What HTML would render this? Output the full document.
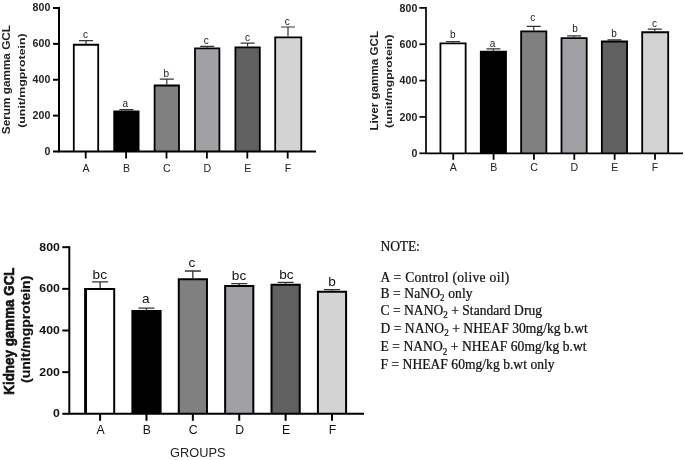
<!DOCTYPE html>
<html><head><meta charset="utf-8"><style>
html,body{margin:0;padding:0;background:#fff;}
svg{display:block;filter:blur(0.45px);}
text{font-family:"Liberation Sans",sans-serif;}
.serif text{font-family:"Liberation Serif",serif;}
</style></head><body>
<svg width="685" height="460" viewBox="0 0 685 460">
<rect width="685" height="460" fill="#fff"/>
<path d="M86,43.88V40.7M79,40.7H93" stroke="#333" stroke-width="1.2" fill="none"/>
<path d="M73.8,151.5V44.77H98.2V151.5Z" fill="#ffffff"/>
<path d="M73.8,151.5V44.77H98.2V151.5" fill="none" stroke="#000" stroke-width="1.8"/>
<text x="85.4" y="37.5" text-anchor="middle" font-size="10" fill="#222">c</text>
<path d="M85.7,151.5V158.5" stroke="#000" stroke-width="1.8"/>
<text x="86.1" y="171.5" text-anchor="middle" font-size="10.6" fill="#222">A</text>
<path d="M126.4,110.6V109.7M119.4,109.7H133.4" stroke="#333" stroke-width="1.2" fill="none"/>
<path d="M114.2,151.5V111.5H138.6V151.5Z" fill="#000000"/>
<path d="M114.2,151.5V111.5H138.6V151.5" fill="none" stroke="#000" stroke-width="1.8"/>
<text x="125.4" y="106.6" text-anchor="middle" font-size="10" fill="#222">a</text>
<path d="M126.1,151.5V158.5" stroke="#000" stroke-width="1.8"/>
<text x="126.5" y="171.5" text-anchor="middle" font-size="10.6" fill="#222">B</text>
<path d="M166.8,84.59V79.2M159.8,79.2H173.8" stroke="#333" stroke-width="1.2" fill="none"/>
<path d="M154.6,151.5V85.49H179V151.5Z" fill="#808080"/>
<path d="M154.6,151.5V85.49H179V151.5" fill="none" stroke="#000" stroke-width="1.8"/>
<text x="166.3" y="76.5" text-anchor="middle" font-size="10" fill="#222">b</text>
<path d="M166.5,151.5V158.5" stroke="#000" stroke-width="1.8"/>
<text x="166.9" y="171.5" text-anchor="middle" font-size="10.6" fill="#222">C</text>
<path d="M207.2,47.46V46.3M200.2,46.3H214.2" stroke="#333" stroke-width="1.2" fill="none"/>
<path d="M195,151.5V48.36H219.4V151.5Z" fill="#a1a0a5"/>
<path d="M195,151.5V48.36H219.4V151.5" fill="none" stroke="#000" stroke-width="1.8"/>
<text x="206.3" y="43.5" text-anchor="middle" font-size="10" fill="#222">c</text>
<path d="M206.9,151.5V158.5" stroke="#000" stroke-width="1.8"/>
<text x="207.3" y="171.5" text-anchor="middle" font-size="10.6" fill="#222">D</text>
<path d="M247.6,46.57V43.2M240.6,43.2H254.6" stroke="#333" stroke-width="1.2" fill="none"/>
<path d="M235.4,151.5V47.47H259.8V151.5Z" fill="#606060"/>
<path d="M235.4,151.5V47.47H259.8V151.5" fill="none" stroke="#000" stroke-width="1.8"/>
<text x="247.5" y="40.5" text-anchor="middle" font-size="10" fill="#222">c</text>
<path d="M247.3,151.5V158.5" stroke="#000" stroke-width="1.8"/>
<text x="247.7" y="171.5" text-anchor="middle" font-size="10.6" fill="#222">E</text>
<path d="M288,36.52V27M281,27H295" stroke="#333" stroke-width="1.2" fill="none"/>
<path d="M275.2,151.5V37.42H301.3V151.5Z" fill="#d3d3d3"/>
<path d="M275.2,151.5V37.42H301.3V151.5" fill="none" stroke="#000" stroke-width="1.8"/>
<text x="287.15" y="24.6" text-anchor="middle" font-size="10" fill="#222">c</text>
<path d="M287.7,151.5V158.5" stroke="#000" stroke-width="1.8"/>
<text x="288.1" y="171.5" text-anchor="middle" font-size="10.6" fill="#222">F</text>
<path d="M59,7V152.5M58,151.5H316" stroke="#000" stroke-width="2" fill="none"/>
<path d="M53,151.5H59" stroke="#000" stroke-width="2"/>
<text x="50.3" y="154.6" text-anchor="end" font-size="10.6" font-weight="bold" fill="#222">0</text>
<path d="M53,115.62H59" stroke="#000" stroke-width="2"/>
<text x="50.3" y="118.72" text-anchor="end" font-size="10.6" font-weight="bold" fill="#222">200</text>
<path d="M53,79.75H59" stroke="#000" stroke-width="2"/>
<text x="50.3" y="82.85" text-anchor="end" font-size="10.6" font-weight="bold" fill="#222">400</text>
<path d="M53,43.88H59" stroke="#000" stroke-width="2"/>
<text x="50.3" y="46.98" text-anchor="end" font-size="10.6" font-weight="bold" fill="#222">600</text>
<path d="M53,8H59" stroke="#000" stroke-width="2"/>
<text x="50.3" y="11.1" text-anchor="end" font-size="10.6" font-weight="bold" fill="#222">800</text>
<text transform="translate(10.3,79.6) scale(1,1) rotate(-90)" text-anchor="middle" font-size="10.2" font-weight="bold" fill="#222" textLength="109.2" lengthAdjust="spacingAndGlyphs">Serum gamma GCL</text>
<text transform="translate(25.2,80.6) scale(1,1) rotate(-90)" text-anchor="middle" font-size="9.9" font-weight="bold" fill="#222" textLength="94.3" lengthAdjust="spacingAndGlyphs">(unit/mgprotein)</text>
<path d="M453.05,42.43V41.5M446.05,41.5H460.05" stroke="#333" stroke-width="1.2" fill="none"/>
<path d="M440.45,153.3V43.33H465.65V153.3Z" fill="#ffffff"/>
<path d="M440.45,153.3V43.33H465.65V153.3" fill="none" stroke="#000" stroke-width="1.8"/>
<text x="452.8" y="37.9" text-anchor="middle" font-size="10" fill="#222">b</text>
<path d="M453.25,153.3V159.8" stroke="#000" stroke-width="1.8"/>
<text x="453.35" y="171.3" text-anchor="middle" font-size="10.6" fill="#222">A</text>
<path d="M493.4,50.79V48.9M486.4,48.9H500.4" stroke="#333" stroke-width="1.2" fill="none"/>
<path d="M480.8,153.3V51.69H506V153.3Z" fill="#000000"/>
<path d="M480.8,153.3V51.69H506V153.3" fill="none" stroke="#000" stroke-width="1.8"/>
<text x="492.6" y="46.7" text-anchor="middle" font-size="10" fill="#222">a</text>
<path d="M493.6,153.3V159.8" stroke="#000" stroke-width="1.8"/>
<text x="493.7" y="171.3" text-anchor="middle" font-size="10.6" fill="#222">B</text>
<path d="M533.75,30.44V26.3M526.75,26.3H540.75" stroke="#333" stroke-width="1.2" fill="none"/>
<path d="M521.15,153.3V31.34H546.35V153.3Z" fill="#808080"/>
<path d="M521.15,153.3V31.34H546.35V153.3" fill="none" stroke="#000" stroke-width="1.8"/>
<text x="532.85" y="21.2" text-anchor="middle" font-size="10" fill="#222">c</text>
<path d="M533.95,153.3V159.8" stroke="#000" stroke-width="1.8"/>
<text x="534.05" y="171.3" text-anchor="middle" font-size="10.6" fill="#222">C</text>
<path d="M574.1,37.16V35.9M567.1,35.9H581.1" stroke="#333" stroke-width="1.2" fill="none"/>
<path d="M561.5,153.3V38.06H586.7V153.3Z" fill="#a1a0a5"/>
<path d="M561.5,153.3V38.06H586.7V153.3" fill="none" stroke="#000" stroke-width="1.8"/>
<text x="575" y="32" text-anchor="middle" font-size="10" fill="#222">b</text>
<path d="M574.3,153.3V159.8" stroke="#000" stroke-width="1.8"/>
<text x="574.4" y="171.3" text-anchor="middle" font-size="10.6" fill="#222">D</text>
<path d="M614.45,40.62V39.8M607.45,39.8H621.45" stroke="#333" stroke-width="1.2" fill="none"/>
<path d="M601.85,153.3V41.52H627.05V153.3Z" fill="#606060"/>
<path d="M601.85,153.3V41.52H627.05V153.3" fill="none" stroke="#000" stroke-width="1.8"/>
<text x="614.05" y="36.5" text-anchor="middle" font-size="10" fill="#222">b</text>
<path d="M614.65,153.3V159.8" stroke="#000" stroke-width="1.8"/>
<text x="614.75" y="171.3" text-anchor="middle" font-size="10.6" fill="#222">E</text>
<path d="M654.8,31.35V29.2M647.8,29.2H661.8" stroke="#333" stroke-width="1.2" fill="none"/>
<path d="M642.2,153.3V32.25H668.2V153.3Z" fill="#d3d3d3"/>
<path d="M642.2,153.3V32.25H668.2V153.3" fill="none" stroke="#000" stroke-width="1.8"/>
<text x="654.5" y="26.7" text-anchor="middle" font-size="10" fill="#222">c</text>
<path d="M655,153.3V159.8" stroke="#000" stroke-width="1.8"/>
<text x="655.1" y="171.3" text-anchor="middle" font-size="10.6" fill="#222">F</text>
<path d="M426,7.05V154.15M425.15,153.3H683" stroke="#000" stroke-width="1.7" fill="none"/>
<path d="M419.4,153.3H426" stroke="#000" stroke-width="1.7"/>
<text x="417.3" y="157.1" text-anchor="end" font-size="10.6" font-weight="bold" fill="#222">0</text>
<path d="M419.4,116.95H426" stroke="#000" stroke-width="1.7"/>
<text x="417.3" y="120.75" text-anchor="end" font-size="10.6" font-weight="bold" fill="#222">200</text>
<path d="M419.4,80.6H426" stroke="#000" stroke-width="1.7"/>
<text x="417.3" y="84.4" text-anchor="end" font-size="10.6" font-weight="bold" fill="#222">400</text>
<path d="M419.4,44.25H426" stroke="#000" stroke-width="1.7"/>
<text x="417.3" y="48.05" text-anchor="end" font-size="10.6" font-weight="bold" fill="#222">600</text>
<path d="M419.4,7.9H426" stroke="#000" stroke-width="1.7"/>
<text x="417.3" y="11.7" text-anchor="end" font-size="10.6" font-weight="bold" fill="#222">800</text>
<text transform="translate(378.4,80.7) scale(1,1) rotate(-90)" text-anchor="middle" font-size="10.2" font-weight="bold" fill="#222" textLength="99.6" lengthAdjust="spacingAndGlyphs">Liver gamma GCL</text>
<text transform="translate(392.1,81.2) scale(1,1) rotate(-90)" text-anchor="middle" font-size="9.9" font-weight="bold" fill="#222" textLength="93.6" lengthAdjust="spacingAndGlyphs">(unit/mgprotein)</text>
<path d="M100.1,288.02V281.8M92.1,281.8H108.1" stroke="#333" stroke-width="1.3" fill="none"/>
<path d="M86,413.8V289.02H114.2V413.8Z" fill="#ffffff"/>
<path d="M86,413.8V289.02H114.2V413.8" fill="none" stroke="#000" stroke-width="2"/>
<path d="M85,413.8V288.02" stroke="#000" stroke-width="1.8"/>
<text x="99.8" y="278.6" text-anchor="middle" font-size="13.6" fill="#111">bc</text>
<path d="M100.1,413.8V420.8" stroke="#000" stroke-width="2"/>
<text transform="translate(100.5,434.3) scale(0.93,1)" text-anchor="middle" font-size="13.2" fill="#111">A</text>
<path d="M146.48,310.09V308.2M138.48,308.2H154.48" stroke="#333" stroke-width="1.3" fill="none"/>
<path d="M132.38,413.8V311.09H160.58V413.8Z" fill="#000000"/>
<path d="M132.38,413.8V311.09H160.58V413.8" fill="none" stroke="#000" stroke-width="2"/>
<text x="145.68" y="303.2" text-anchor="middle" font-size="13.6" fill="#111">a</text>
<path d="M146.48,413.8V420.8" stroke="#000" stroke-width="2"/>
<text transform="translate(146.88,434.3) scale(0.93,1)" text-anchor="middle" font-size="13.2" fill="#111">B</text>
<path d="M192.86,278.23V271M184.86,271H200.86" stroke="#333" stroke-width="1.3" fill="none"/>
<path d="M178.76,413.8V279.23H206.96V413.8Z" fill="#808080"/>
<path d="M178.76,413.8V279.23H206.96V413.8" fill="none" stroke="#000" stroke-width="2"/>
<text x="191.96" y="267.1" text-anchor="middle" font-size="13.6" fill="#111">c</text>
<path d="M192.86,413.8V420.8" stroke="#000" stroke-width="2"/>
<text transform="translate(193.26,434.3) scale(0.93,1)" text-anchor="middle" font-size="13.2" fill="#111">C</text>
<path d="M239.24,285.1V283.6M231.24,283.6H247.24" stroke="#333" stroke-width="1.3" fill="none"/>
<path d="M225.14,413.8V286.1H253.34V413.8Z" fill="#a1a0a5"/>
<path d="M225.14,413.8V286.1H253.34V413.8" fill="none" stroke="#000" stroke-width="2"/>
<text x="239.04" y="279.5" text-anchor="middle" font-size="13.6" fill="#111">bc</text>
<path d="M239.24,413.8V420.8" stroke="#000" stroke-width="2"/>
<text transform="translate(239.64,434.3) scale(0.93,1)" text-anchor="middle" font-size="13.2" fill="#111">D</text>
<path d="M285.62,283.85V282.3M277.62,282.3H293.62" stroke="#333" stroke-width="1.3" fill="none"/>
<path d="M271.52,413.8V284.85H299.72V413.8Z" fill="#606060"/>
<path d="M271.52,413.8V284.85H299.72V413.8" fill="none" stroke="#000" stroke-width="2"/>
<text x="286.32" y="278.7" text-anchor="middle" font-size="13.6" fill="#111">bc</text>
<path d="M285.62,413.8V420.8" stroke="#000" stroke-width="2"/>
<text transform="translate(286.02,434.3) scale(0.93,1)" text-anchor="middle" font-size="13.2" fill="#111">E</text>
<path d="M332,290.72V289.7M324,289.7H340" stroke="#333" stroke-width="1.3" fill="none"/>
<path d="M317.9,413.8V291.72H346.1V413.8Z" fill="#d3d3d3"/>
<path d="M317.9,413.8V291.72H346.1V413.8" fill="none" stroke="#000" stroke-width="2"/>
<text x="332" y="285.5" text-anchor="middle" font-size="13.6" fill="#111">b</text>
<path d="M332,413.8V420.8" stroke="#000" stroke-width="2"/>
<text transform="translate(332.4,434.3) scale(0.93,1)" text-anchor="middle" font-size="13.2" fill="#111">F</text>
<path d="M69.3,246.2V414.8M68.3,413.8H364" stroke="#000" stroke-width="2" fill="none"/>
<path d="M62.3,413.8H69.3" stroke="#000" stroke-width="2"/>
<text transform="translate(59.8,417.4) scale(1.05,1)" text-anchor="end" font-size="11.7" font-weight="bold" fill="#111">0</text>
<path d="M62.3,372.15H69.3" stroke="#000" stroke-width="2"/>
<text transform="translate(59.8,375.75) scale(1.05,1)" text-anchor="end" font-size="11.7" font-weight="bold" fill="#111">200</text>
<path d="M62.3,330.5H69.3" stroke="#000" stroke-width="2"/>
<text transform="translate(59.8,334.1) scale(1.05,1)" text-anchor="end" font-size="11.7" font-weight="bold" fill="#111">400</text>
<path d="M62.3,288.85H69.3" stroke="#000" stroke-width="2"/>
<text transform="translate(59.8,292.45) scale(1.05,1)" text-anchor="end" font-size="11.7" font-weight="bold" fill="#111">600</text>
<path d="M62.3,247.2H69.3" stroke="#000" stroke-width="2"/>
<text transform="translate(59.8,250.8) scale(1.05,1)" text-anchor="end" font-size="11.7" font-weight="bold" fill="#111">800</text>
<text transform="translate(13.9,331.1) scale(1.1,1) rotate(-90)" text-anchor="middle" font-size="13.2" font-weight="bold" fill="#111" textLength="127.2" lengthAdjust="spacingAndGlyphs" stroke="#111" stroke-width="0.55">Kidney gamma GCL</text>
<text transform="translate(30.4,329.3) scale(1.1,1) rotate(-90)" text-anchor="middle" font-size="12.4" font-weight="bold" fill="#111" textLength="107.2" lengthAdjust="spacingAndGlyphs" stroke="#111" stroke-width="0.2">(unit/mgprotein)</text>
<text transform="translate(197.8,457.4) scale(0.94,1)" text-anchor="middle" font-size="13.6" fill="#222">GROUPS</text>
<g class="serif" font-size="14.2" fill="#111" stroke="#111" stroke-width="0.25" transform="translate(380.5,0) scale(0.955,1)">
<text x="0" y="250.6" textLength="41.26" lengthAdjust="spacing">NOTE:</text>
<text x="0" y="281.7" textLength="134.87" lengthAdjust="spacing">A = Control (olive oil)</text>
<text x="0" y="297.8" textLength="96.44" lengthAdjust="spacing">B = NaNO<tspan baseline-shift="-28%" font-size="9.5">2</tspan> only</text>
<text x="0" y="315.3" textLength="169.11" lengthAdjust="spacing">C = NANO<tspan baseline-shift="-28%" font-size="9.5">2</tspan> + Standard Drug</text>
<text x="0" y="333.2" textLength="217.17" lengthAdjust="spacing">D = NANO<tspan baseline-shift="-28%" font-size="9.5">2</tspan> + NHEAF 30mg/kg b.wt</text>
<text x="0" y="351.5" textLength="215.81" lengthAdjust="spacing">E = NANO<tspan baseline-shift="-28%" font-size="9.5">2</tspan> + NHEAF 60mg/kg b.wt</text>
<text x="0" y="368.9" textLength="182.3" lengthAdjust="spacing">F = NHEAF 60mg/kg b.wt only</text>
</g>
</svg>
</body></html>
